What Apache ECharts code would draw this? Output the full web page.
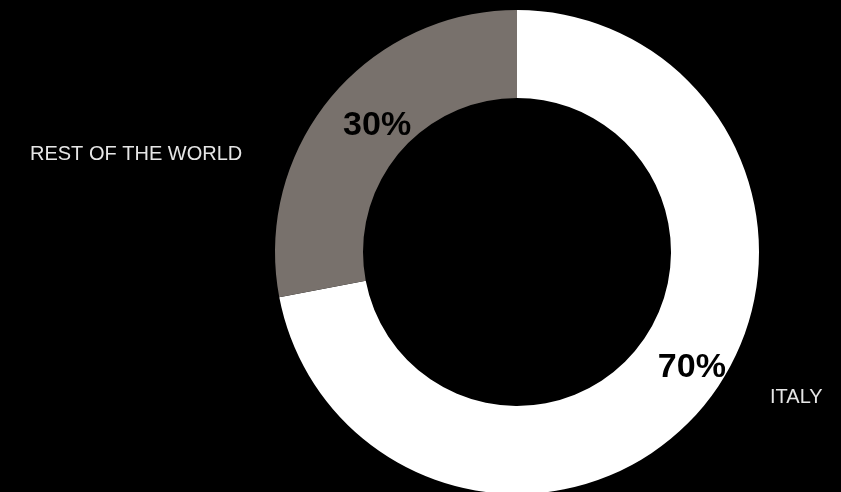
<!DOCTYPE html>
<html>
<head>
<meta charset="utf-8">
<style>
html,body{margin:0;padding:0;background:#000;}
#chart{width:841px;height:492px;}
</style>
<script src="https://cdn.jsdelivr.net/npm/echarts@6/dist/echarts.min.js"></script>
</head>
<body>
<div id="chart"></div>
<script>
// categories and values as drawn (arc sizes)
var categories = ['ITALY', 'REST OF THE WORLD'];
var arcShares = [72, 28];
// percentage labels printed on the slices
var pctLabels = ['70%', '30%'];
var sliceColors = ['#ffffff', '#78716c'];
var pctOffsets = [[20, -12], [15, 2]];

var chart = echarts.init(document.getElementById('chart'));
var data = categories.map(function (c, i) {
  return {
    name: c,
    value: arcShares[i],
    itemStyle: { color: sliceColors[i] },
    label: { offset: pctOffsets[i], formatter: pctLabels[i] }
  };
});

chart.setOption({
  backgroundColor: '#000000',
  animation: false,
  series: [{
    type: 'pie',
    center: [517, 252],
    radius: [154, 242],
    startAngle: 90,
    clockwise: true,
    silent: true,
    data: data,
    label: {
      show: true,
      position: 'inside',
      color: '#000',
      fontFamily: 'Liberation Sans, Arial, sans-serif',
      fontWeight: 'bold',
      fontSize: 34
    },
    labelLine: { show: false }
  }],
  graphic: [
    {
      type: 'text', left: 30, top: 144,
      style: { text: categories[1], fill: '#e6e6e6', font: '20px "Liberation Sans", Arial, sans-serif' }
    },
    {
      type: 'text', left: 770, top: 387,
      style: { text: categories[0], fill: '#e6e6e6', font: '20px "Liberation Sans", Arial, sans-serif' }
    }
  ]
});
</script>
</body>
</html>
